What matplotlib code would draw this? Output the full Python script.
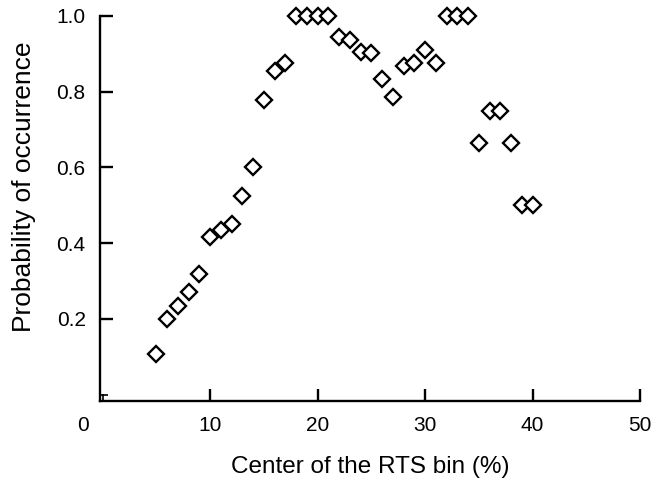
import matplotlib
matplotlib.use("Agg")
import matplotlib.pyplot as plt
from matplotlib.transforms import ScaledTranslation

# RTS bin centres (%) and probability of occurrence
rts_bin = [5, 6, 7, 8, 9, 10, 11, 12, 13, 14, 15, 16, 17, 18, 19, 20, 21, 22,
           23, 24, 25, 26, 27, 28, 29, 30, 31, 32, 33, 34, 35, 36, 37, 38, 39, 40]
prob = [0.108, 0.201, 0.233, 0.271, 0.320, 0.417, 0.434, 0.450, 0.526, 0.600,
        0.778, 0.855, 0.875, 1.0, 1.0, 1.0, 1.0, 0.944, 0.936, 0.905, 0.903,
        0.833, 0.785, 0.868, 0.875, 0.909, 0.875, 1.0, 1.0, 1.0, 0.665, 0.749,
        0.749, 0.665, 0.5, 0.5]

xticks = [0, 10, 20, 30, 40, 50]
yticks = [0, 0.2, 0.4, 0.6, 0.8, 1.0]
ytick_labels = ["", "0.2", "0.4", "0.6", "0.8", "1.0"]

plt.rcParams['font.family'] = ['Liberation Sans', 'DejaVu Sans']

fig = plt.figure(figsize=(6.64, 4.8), dpi=100)
ax = fig.add_axes([0.1499, 0.1646, 0.814, 0.8021])

ax.plot(rts_bin, prob, linestyle='none', marker='D', markersize=7.8,
        markerfacecolor='white', markeredgecolor='black', markeredgewidth=1.7,
        clip_on=False)

ax.set_xlim(-0.28, 50)
ax.set_ylim(-0.0165, 1.0)

for s in ['top', 'right']:
    ax.spines[s].set_visible(False)
for s in ['left', 'bottom']:
    ax.spines[s].set_linewidth(1.7)

ax.set_xticks(xticks)
ax.set_xticklabels([str(v) for v in xticks])
ax.set_yticks(yticks)
ax.set_yticklabels(ytick_labels)
ax.tick_params(direction='in', length=9, width=1.7, labelsize=15, colors='black')
ax.tick_params(axis='x', pad=11)
ax.tick_params(axis='y', pad=10)

# the zero ticks are drawn short
ax.xaxis.get_major_ticks()[0].tick1line.set_markersize(5)
ax.xaxis.get_major_ticks()[0].tick1line.set_markeredgewidth(1.2)
ax.yaxis.get_major_ticks()[0].tick1line.set_markersize(6)
ax.yaxis.get_major_ticks()[0].tick1line.set_markeredgewidth(1.2)

# "0" label sits left of the axis in the original
lbl0 = ax.get_xticklabels()[0]
lbl0.set_transform(lbl0.get_transform() + ScaledTranslation(-0.2, 0, fig.dpi_scale_trans))

ax.set_xlabel("Center of the RTS bin (%)", fontsize=17.5, labelpad=15)
ax.set_ylabel("Probability of occurrence", fontsize=19, va='center')
ax.yaxis.set_label_coords(-0.14, 0.556)

fig.savefig("out.png", dpi=100)
